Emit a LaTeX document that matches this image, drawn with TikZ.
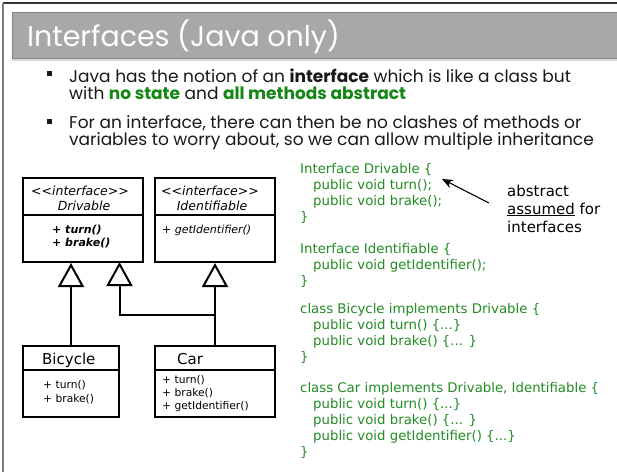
\documentclass[tikz,border=0pt]{standalone}
\usepackage{fontspec}
\setmainfont{DejaVu Sans}
\newfontfamily\gothic{Poppins}
\usetikzlibrary{arrows.meta}
\definecolor{codegreen}{RGB}{34,140,34}
\definecolor{boldgreen}{RGB}{20,135,20}
\definecolor{titlegray}{RGB}{168,168,168}
\definecolor{titleedge}{RGB}{135,135,135}
\definecolor{stripgray}{RGB}{218,218,218}
\definecolor{textdark}{RGB}{25,25,25}
\newcommand{\stereo}{{<}{<}interface{>}{>}}
\tikzset{
  umlbox/.style={draw=black, line width=2pt, inner sep=0pt},
  lbl/.style={inner sep=0pt, anchor=base west},
  clbl/.style={inner sep=0pt, anchor=base},
  codeline/.style={inner sep=0pt, anchor=base west, text=codegreen, font=\fontsize{13.3}{16}\selectfont},
  bullettext/.style={inner sep=0pt, anchor=base west, text=textdark, font=\gothic\fontsize{17}{20}\selectfont},
  inherit/.style={line width=2pt, -{Triangle[open, length=24pt, width=26pt, line width=2pt, fill=white]}},
}
\begin{document}
\begin{tikzpicture}[x=1pt, y=-1pt]
\useasboundingbox (0,0) rectangle (617,472);
\fill[white] (0,0) rectangle (617,472);
% frame
\draw[line width=1.5pt, black!80] (3,3) -- (617,3);
\draw[line width=1.2pt, black!50] (3,3) -- (3,472);
% title bar
\fill[stripgray] (12,57) rectangle (617,61);
\filldraw[fill=titlegray, draw=titleedge, line width=1pt] (12,12) rectangle (618,58);
\node[lbl, text=white, font=\gothic\fontsize{28.5}{32}\selectfont] (title) at (27,46) {Interfaces (Java only)};
% bullets
\fill[textdark] (47,71) rectangle (52,76);
\fill[textdark] (47,119) rectangle (52,124);
\node[bullettext] (b1) at (69,82) {Java has the notion of an \textbf{interface} which is like a class but};
\node[bullettext] (b2) at (69,99) {with \textcolor{boldgreen}{\textbf{no state}} and \textcolor{boldgreen}{\textbf{all methods abstract}}};
\node[bullettext] (b3) at (69,128) {For an interface, there can then be no clashes of methods or};
\node[bullettext] (b4) at (69,145) {variables to worry about, so we can allow multiple inheritance};
% UML boxes
\node[umlbox, minimum width=120pt, minimum height=84pt] (drv) at (83,220) {};
\node[umlbox, minimum width=120pt, minimum height=84pt] (idf) at (215,220) {};
\node[umlbox, minimum width=96pt, minimum height=71pt] (bic) at (71,381.5) {};
\node[umlbox, minimum width=120pt, minimum height=71pt] (car) at (215,381.5) {};
\draw[line width=2pt] (drv.west |- 0,215) -- (drv.east |- 0,215);
\draw[line width=2pt] (idf.west |- 0,215) -- (idf.east |- 0,215);
\draw[line width=2pt] (bic.west |- 0,370) -- (bic.east |- 0,370);
\draw[line width=2pt] (car.west |- 0,370) -- (car.east |- 0,370);
% UML texts
\node[clbl, font=\itshape\fontsize{12.5}{15}\selectfont] (drvst) at (80,195) {\stereo};
\node[clbl, font=\itshape\fontsize{12.5}{15}\selectfont] (drvnm) at (84,210) {Drivable};
\node[clbl, font=\itshape\fontsize{12.5}{15}\selectfont] (idfst) at (210,195) {\stereo};
\node[clbl, font=\itshape\fontsize{12.5}{15}\selectfont] (idfnm) at (212,210) {Identifiable};
\node[lbl, font=\bfseries\itshape\fontsize{11}{13}\selectfont] (drvm1) at (52,233) {+ turn()};
\node[lbl, font=\bfseries\itshape\fontsize{11}{13}\selectfont] (drvm2) at (52,246) {+ brake()};
\node[lbl, font=\itshape\fontsize{11}{13}\selectfont] (idfm1) at (162,233) {+ getIdentifier()};
\node[lbl, font=\fontsize{15}{18}\selectfont] (bicnm) at (42,364) {Bicycle};
\node[lbl, font=\fontsize{15}{18}\selectfont] (carnm) at (177,364) {Car};
\node[lbl, font=\fontsize{10.7}{13}\selectfont] (bicm1) at (43,388) {+ turn()};
\node[lbl, font=\fontsize{10.7}{13}\selectfont] (bicm2) at (43,402) {+ brake()};
\node[lbl, font=\fontsize{10.7}{13}\selectfont] (carm1) at (162,383) {+ turn()};
\node[lbl, font=\fontsize{10.7}{13}\selectfont] (carm2) at (162,396) {+ brake()};
\node[lbl, font=\fontsize{10.7}{13}\selectfont] (carm3) at (162,409) {+ getIdentifier()};
% inheritance connectors
\coordinate (join) at (215,315);
\draw[inherit] (bic.north) -- (bic.north |- drv.south);
\draw[inherit] (car.north) -- (car.north |- idf.south);
\draw[inherit] (join) -| (119.5,262);
% code
\node[codeline] (c1) at (300,173) {Interface Drivable \{};
\node[codeline] (c2) at (313,189) {public void turn();};
\node[codeline] (c3) at (313,205) {public void brake();};
\node[codeline] (c4) at (300,221) {\}};
\node[codeline] (c5) at (300,253) {Interface Identifiable \{};
\node[codeline] (c6) at (313,269) {public void getIdentifier();};
\node[codeline] (c7) at (300,285) {\}};
\node[codeline] (c8) at (300,313) {class Bicycle implements Drivable \{};
\node[codeline] (c9) at (313,329) {public void turn() \{...\}};
\node[codeline] (c10) at (313,345) {public void brake() \{... \}};
\node[codeline] (c11) at (300,361) {\}};
\node[codeline] (c12) at (300,392) {class Car implements Drivable, Identifiable \{};
\node[codeline] (c13) at (313,408) {public void turn() \{...\}};
\node[codeline] (c14) at (313,424) {public void brake() \{... \}};
\node[codeline] (c15) at (313,440) {public void getIdentifier() \{...\}};
\node[codeline] (c16) at (300,456) {\}};
% annotation
\node[lbl, font=\fontsize{15}{18}\selectfont] (n1) at (507,196) {abstract};
\node[lbl, font=\fontsize{15}{18}\selectfont] (n2) at (507,214) {\underline{assumed} for};
\node[lbl, font=\fontsize{15}{18}\selectfont] (n3) at (507,232) {interfaces};
\coordinate (tail) at (489,203);
\coordinate (tip) at (442,179);
\draw[line width=1.1pt, -{Stealth[length=11pt, width=9pt]}] (tail) -- (tip);
\end{tikzpicture}
\end{document}
